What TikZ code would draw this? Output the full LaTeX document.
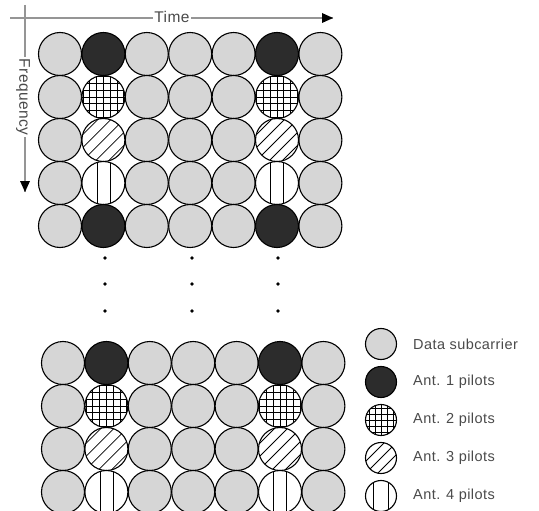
\documentclass[tikz,border=0pt]{standalone}
\usepackage{fontspec}
\setmainfont{Liberation Sans}[LetterSpace=3]
\usetikzlibrary{arrows.meta}
\definecolor{datagray}{HTML}{D6D6D6}
\definecolor{pilotdark}{HTML}{2C2C2C}
\definecolor{txtgray}{HTML}{4A4A4A}
\definecolor{axisgray}{HTML}{959595}
\tikzset{
  cell/.style={circle, draw=black, line width=1.1pt, inner sep=0pt, minimum size=#1},
  cell/.default=43pt,
  patline/.style={line width=0.8pt, black},
  gridpat/.style={path picture={
      \foreach \i in {-4,...,4}{
        \draw[patline] ([xshift=\i*#1]path picture bounding box.center) ++(0,-30pt) -- ++(0,60pt);
        \draw[patline] ([yshift=\i*#1]path picture bounding box.center) ++(-30pt,0) -- ++(60pt,0);
      }}},
  diagpat/.style={path picture={
      \foreach \i in {-4,...,4}{
        \draw[patline] ([xshift=\i*#1]path picture bounding box.center) ++(-30pt,-30pt) -- ++(60pt,60pt);
      }}},
  vertpat/.style={path picture={
      \foreach \i in {-1,1}{
        \draw[patline] ([xshift=\i*#1]path picture bounding box.center) ++(0,-30pt) -- ++(0,60pt);
      }}},
  data/.style={cell, fill=datagray},
  ant1/.style={cell, fill=pilotdark},
  ant2/.style={cell, fill=white, gridpat=6.8pt},
  ant3/.style={cell, fill=white, diagpat=13pt},
  ant4/.style={cell, fill=white, vertpat=6.5pt},
  ldata/.style={cell=31pt, fill=datagray},
  lant1/.style={cell=31pt, fill=pilotdark},
  lant2/.style={cell=31pt, fill=white, gridpat=6pt},
  lant3/.style={cell=31pt, fill=white, diagpat=12pt},
  lant4/.style={cell=31pt, fill=white, vertpat=7.5pt},
  kind/.style={#1},
  dot/.style={circle, fill=black, inner sep=0pt, minimum size=3.6pt},
  axis/.style={draw=axisgray, line width=1.3pt},
  axlabel/.style={fill=white, inner sep=1.5pt, text=txtgray, font=\fontsize{15.5}{16}\selectfont},
  legtext/.style={anchor=west, inner sep=0pt, text=txtgray, font=\fontsize{14.5}{15}\selectfont},
}
\begin{document}
\begin{tikzpicture}[x=1pt, y=-1pt]
\useasboundingbox (0,0) rectangle (539,511);
% axes
\coordinate (hs) at (10,18);
\coordinate (he) at (333,18);
\coordinate (vs) at (25,5);
\coordinate (ve) at (25,192);
\draw[axis] (hs) -- (he);
\draw[axis] (vs) -- (ve);
\fill[black] (he) -- ++(-11,-5) -- ++(0,10) -- cycle;
\fill[black] (ve) -- ++(-5,-11) -- ++(10,0) -- cycle;
\node[axlabel] (time) at (172,17) {Time};
\node[axlabel, rotate=-90] (freq) at (23,97) {Frequency};
% top grid
\foreach \r/\p in {1/ant1,2/ant2,3/ant3,4/ant4,5/ant1}{
  \foreach \c in {1,3,4,5,7}{
    \node[data] (t-\r-\c) at ({60+(\c-1)*43.4},{54+(\r-1)*43}) {};
  }
  \foreach \c in {2,6}{
    \node[kind/.expanded=\p] (t-\r-\c) at ({60+(\c-1)*43.4},{54+(\r-1)*43}) {};
  }
}
% dots
\foreach \i/\x in {1/105,2/192,3/278}{
  \foreach \j/\y in {1/258,2/284,3/311}{
    \node[dot] (dot-\i-\j) at (\x,\y) {};
  }
}
% bottom grid
\foreach \r/\p in {1/ant1,2/ant2,3/ant3,4/ant4}{
  \foreach \c in {1,3,4,5,7}{
    \node[data] (b-\r-\c) at ({63+(\c-1)*43.4},{363+(\r-1)*43}) {};
  }
  \foreach \c in {2,6}{
    \node[kind/.expanded=\p] (b-\r-\c) at ({63+(\c-1)*43.4},{363+(\r-1)*43}) {};
  }
}
% legend
\foreach \k/\s/\t [count=\n] in {344/ldata/Data subcarrier, 382/lant1/Ant. 1 pilots, 420/lant2/Ant. 2 pilots, 458/lant3/Ant. 3 pilots, 496/lant4/Ant. 4 pilots}{
  \node[kind/.expanded=\s] (lg-\n) at (381,\k) {};
  \node[legtext] (lt-\n) at (413,\k) {\t};
}
\end{tikzpicture}
\end{document}
